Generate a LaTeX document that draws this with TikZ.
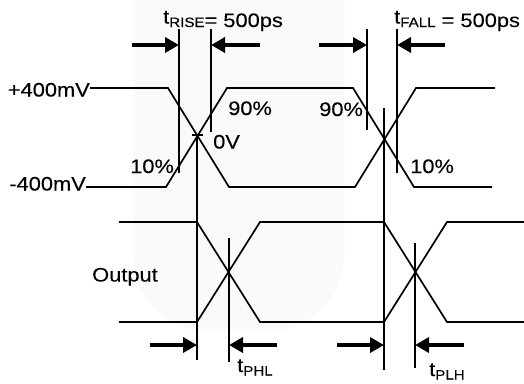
\documentclass[tikz,border=0pt]{standalone}
\usepackage{fontspec}
\setmainfont{Liberation Sans}[FakeStretch=1.12,FakeBold=0.2]
\usetikzlibrary{arrows.meta}
\newcommand{\tsub}[1]{t\raisebox{-3.5bp}{\fontsize{13.5bp}{14bp}\selectfont #1}}
\begin{document}
\begin{tikzpicture}[x=1bp,y=-1bp]
\tikzstyle{every node}=[inner sep=0pt,font=\fontsize{19.5bp}{21bp}\selectfont];
\tikzstyle{wave}=[line width=1.7bp,line join=miter];
\tikzstyle{refline}=[line width=1.7bp];
\tikzstyle{dim}=[line width=3.5bp,-{Triangle[length=14bp,width=15bp]}];

  \useasboundingbox (0,0) rectangle (524,383);
  % faint watermark behind the picture
  \fill[black!2,rounded corners=75bp] (133,-100) rectangle (344,331);

  % labels
  \node[anchor=base west] (rise) at (163,27) {\raisebox{3.5bp}{\tsub{RISE}}= 500ps};
  \node[anchor=base west] (fall) at (394,27) {\raisebox{3.5bp}{\tsub{FALL}} = 500ps};
  \node[anchor=base east] (hi) at (90,96.5) {+400mV};
  \node[anchor=base east] (lo) at (86,190.5) {-400mV};
  \node[anchor=base west] (ten) at (130,173) {10\%};
  \node[anchor=base west] (zero) at (213,148.5) {0V};
  \node[anchor=base west] (nine) at (228,115) {90\%};
  \node[anchor=base west] (ninb) at (319,116) {90\%};
  \node[anchor=base west] (tenb) at (410,173) {10\%};
  \node[anchor=base west] (out) at (92,281.5) {Output};
  \node[anchor=base west] (phl) at (237,372) {\tsub{PHL}};
  \node[anchor=base west] (plh) at (429,376) {\tsub{PLH}};

  % input waveforms
  \draw[wave] (90,88) -- (168,88) -- (229,187) -- (355,187) -- (416,88) -- (495,88);
  \draw[wave] (86,187) -- (166,187) -- (227,88) -- (353,88) -- (414,187) -- (492,187);
  % output waveforms
  \draw[wave] (119,222) -- (197,222) -- (260,322) -- (384,322) -- (447,222) -- (524,222);
  \draw[wave] (119,322) -- (197,322) -- (260,222) -- (384,222) -- (447,322) -- (524,322);

  % reference lines, each with its timing arrow
  \foreach \name/\x/\top/\bot/\ay/\tail in {ra/179/29/173/45/132, rb/211/29/132/45/260,
                                            fa/367/29/130/45/319, fb/397/29/173/45/445,
                                            ca/197/135/360/345/150, oa/229/238/362/345/277,
                                            cb/384/108/370/345/337, ob/415/243/368/345/464}
  {
    \coordinate (\name t) at (\x,\top);
    \coordinate (\name b) at (\x,\bot);
    \coordinate (\name p) at (\x,\ay);
    \coordinate (\name q) at (\tail,\ay);
    \draw[refline] (\name t) -- (\name b);
    \draw[dim] (\name q) -- (\name p);
  }
  \draw[refline] (192,135) -- (203,135);

\end{tikzpicture}
\end{document}
